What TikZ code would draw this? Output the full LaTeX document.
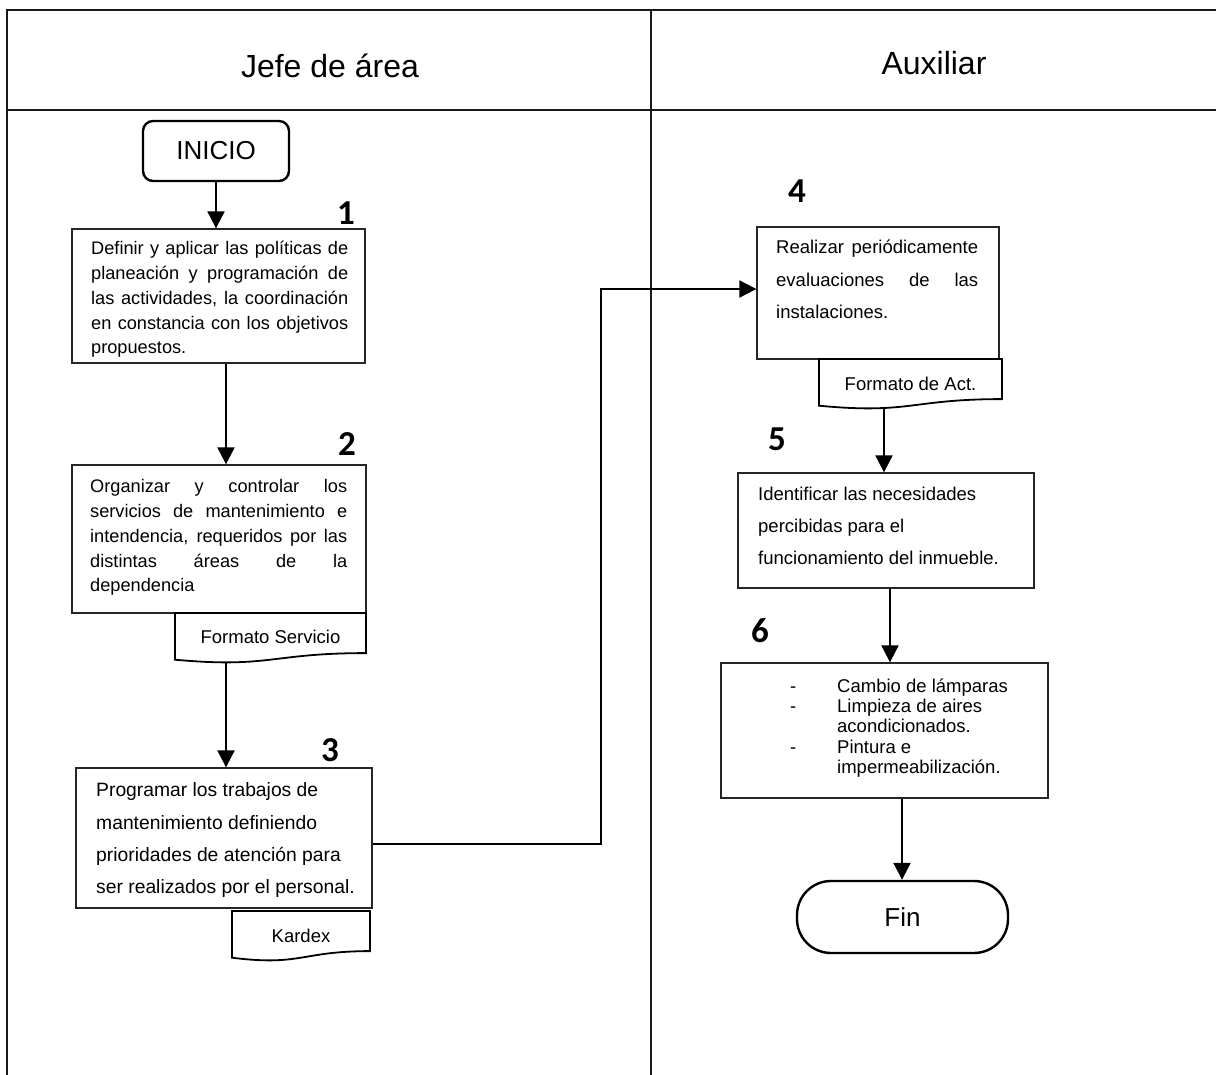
\documentclass[tikz,border=0pt]{standalone}
\usepackage{fontspec}
\setmainfont{Liberation Sans}
\newfontfamily\digitfont{Carlito}
\usetikzlibrary{arrows.meta}
\newcommand\txtsize[2]{\fontsize{#1pt}{#2pt}\selectfont}
% a line stretched to a fixed width (justified line)
\newcommand\jline[2]{\makebox[#1pt][s]{#2}}
% document symbol: top-left (#1,#2), bottom-right (#3,#4), wavy bottom edge
\newcommand\docpath[4]{%
  \draw[docbox] (#1,#2) -- (#3,#2) -- (#3,{#2+0.802*(#4-#2)})
    .. controls ({(#1+#3)/2},{#2+0.802*(#4-#2)}) and ({(#1+#3)/2},{#2+1.108*(#4-#2)})
    .. (#1,{#2+0.934*(#4-#2)}) -- cycle;}
\begin{document}
\begin{tikzpicture}[x=1pt,y=-1pt,
  frame/.style={line width=1.5pt, draw=black!90},
  stepbox/.style={draw=black!85, line width=1.3pt, inner sep=0pt},
  terminal/.style={draw=black, line width=2.4pt, inner sep=0pt, font=\txtsize{26}{30}},
  docbox/.style={draw=black, line width=1.8pt},
  ln/.style={anchor=base west, inner sep=0pt, font=\txtsize{18.5}{22}},
  lnA/.style={ln, font=\txtsize{18.2}{22}},
  lnB/.style={ln, font=\txtsize{19.3}{22}},
  doctext/.style={anchor=base, inner sep=0pt, font=\txtsize{18.5}{22}},
  stepnum/.style={anchor=base, inner sep=0pt, font=\digitfont\bfseries\txtsize{35}{35}},
  head/.style={anchor=base, inner sep=0pt, font=\txtsize{32}{36}},
  arr/.style={line width=2pt, -{Triangle[width=17pt,length=17pt]}}
]
\useasboundingbox (0,0) rectangle (1216,1075);
\fill[white] (0,0) rectangle (1216,1075);

% lane frame
\draw[frame] (1216,10) -- (7,10) -- (7,1075);
\draw[frame] (7,110) -- (1216,110);
\draw[frame] (651,10) -- (651,1075);
\node[head] (h1) at (330,78) {Jefe de área};
\node[head] (h2) at (934,75) {Auxiliar};

% terminals
\node[terminal, rounded corners=10pt, minimum width=146pt, minimum height=60pt] (ini) at (216,151) {INICIO};
\node[terminal, rounded corners=34pt, minimum width=211pt, minimum height=72pt] (fin) at (902.5,917) {Fin};

% process boxes
\node[stepbox, minimum width=293pt, minimum height=134pt] (b1) at (218.5,296) {};
\node[stepbox, minimum width=294pt, minimum height=148pt] (b2) at (219,539) {};
\node[stepbox, minimum width=296pt, minimum height=140pt] (b3) at (224,838) {};
\node[stepbox, minimum width=242pt, minimum height=132pt] (b4) at (878,293) {};
\node[stepbox, minimum width=296pt, minimum height=115pt] (b5) at (886,530.5) {};
\node[stepbox, minimum width=327pt, minimum height=135pt] (b6) at (884.5,730.5) {};

% documents
\docpath{175}{613}{366}{663}
\node[doctext] (fs) at (270.5,643) {Formato Servicio};
\docpath{232}{911}{370}{961}
\node[doctext] (kx) at (301,942) {Kardex};
\docpath{819}{359}{1002}{409}
\node[doctext] (fa) at (910.5,390) {Formato de Act.};

% step numbers
\node[stepnum] (n1) at (346,225) {1};
\node[stepnum] (n2) at (347,455) {2};
\node[stepnum] (n3) at (330,761) {3};
\node[stepnum] (n4) at (797,203) {4};
\node[stepnum] (n5) at (777,450) {5};
\node[stepnum] (n6) at (760,642) {6};

% step 1
\node[lnA] (t11) at (91,255) {\jline{257}{Definir y aplicar las políticas de}};
\node[lnA] (t12) at (91,280) {\jline{257}{planeación y programación de}};
\node[lnA] (t13) at (91,305) {\jline{257}{las actividades, la coordinación}};
\node[lnA] (t14) at (91,330) {\jline{257}{en constancia con los objetivos}};
\node[lnA] (t15) at (91,354) {propuestos.};
% step 2
\node[lnA] (t21) at (90,492) {\jline{257}{Organizar y controlar los}};
\node[lnA] (t22) at (90,517) {\jline{257}{servicios de mantenimiento e}};
\node[lnA] (t23) at (90,542) {\jline{257}{intendencia, requeridos por las}};
\node[lnA] (t24) at (90,567) {\jline{257}{distintas áreas de la}};
\node[lnA] (t25) at (90,591) {dependencia};
% step 3
\node[lnB] (t31) at (96,796) {Programar los trabajos de};
\node[lnB] (t32) at (96,829) {mantenimiento definiendo};
\node[lnB] (t33) at (96,861) {prioridades de atención para};
\node[lnB] (t34) at (96,893) {ser realizados por el personal.};
% step 4
\node[ln] (t41) at (776,254) {\jline{202}{Realizar periódicamente}};
\node[ln] (t42) at (776,287) {\jline{202}{evaluaciones de las}};
\node[ln] (t43) at (776,319) {instalaciones.};
% step 5
\node[ln] (t51) at (758,500) {Identificar las necesidades};
\node[ln] (t52) at (758,532) {percibidas para el};
\node[ln] (t53) at (758,564) {funcionamiento del inmueble.};
% step 6
\node[ln] (d61) at (790,692) {-};
\node[ln] (t61) at (837,692) {Cambio de lámparas};
\node[ln] (d62) at (790,712) {-};
\node[ln] (t62) at (837,712) {Limpieza de aires};
\node[ln] (t63) at (837,732) {acondicionados.};
\node[ln] (d63) at (790,753) {-};
\node[ln] (t64) at (837,753) {Pintura e};
\node[ln] (t65) at (837,773) {impermeabilización.};

% connectors
\coordinate (c12) at (226,0);
\coordinate (fsb) at (226,662);
\coordinate (fab) at (884,408);
\coordinate (c56) at (890,0);
\coordinate (c6f) at (902,0);
\coordinate (jn) at (601,289);
\draw[arr] (ini.south) -- (ini.south |- b1.north);
\draw[arr] (c12 |- b1.south) -- (c12 |- b2.north);
\draw[arr] (fsb) -- (fsb |- b3.north);
\draw[arr] ([yshift=-6pt]b3.east) -| (jn) -- (jn -| b4.west);
\draw[arr] (fab) -- (fab |- b5.north);
\draw[arr] (c56 |- b5.south) -- (c56 |- b6.north);
\draw[arr] (c6f |- b6.south) -- (c6f |- fin.north);
\end{tikzpicture}
\end{document}
